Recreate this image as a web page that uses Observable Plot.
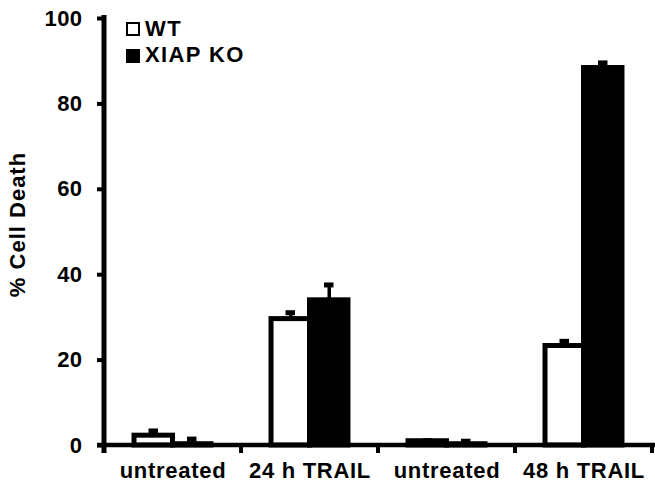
<!DOCTYPE html>
<html><head><meta charset="utf-8">
<script src="https://cdn.jsdelivr.net/npm/d3@7"></script>
<script src="https://cdn.jsdelivr.net/npm/@observablehq/plot@0.6"></script>
<style>
html,body{margin:0;padding:0;background:#fff;}
#wrap{position:relative;width:655px;height:483px;font-family:"Liberation Sans",Arial,Helvetica,sans-serif;}
.lg{position:absolute;font-weight:bold;font-size:22px;line-height:22px;letter-spacing:1.4px;color:#000;white-space:nowrap;}
.sw{position:absolute;box-sizing:border-box;width:14px;height:14px;border:2.5px solid #000;}
g[aria-label="fx-axis tick label"] text{letter-spacing:0.7px;}
g[aria-label="y-axis tick label"] text{letter-spacing:0.4px;}
</style></head><body><div id="wrap"></div>
<script>
const categoryIds = ["untreated-24", "trail-24", "untreated-48", "trail-48"];
const categoryLabels = ["untreated", "24 h TRAIL", "untreated", "48 h TRAIL"];
const seriesNames = ["WT", "XIAP KO"];
const seriesFills = ["white", "black"];
const wtValues = [2.3, 29.6, 1.0, 23.3];
const wtErrors = [1.1, 1.5, 0.1, 1.1];
const koValues = [0.3, 34.0, 0.3, 88.4];
const koErrors = [1.2, 3.6, 0.7, 1.2];
const yTicks = [0, 20, 40, 60, 80, 100];
const yTitle = "% Cell Death";

const rows = categoryIds.flatMap((c, i) => [
  {category: c, series: seriesNames[0], value: wtValues[i], error: wtErrors[i]},
  {category: c, series: seriesNames[1], value: koValues[i], error: koErrors[i]}
]);
const labelOf = new Map(categoryIds.map((c, i) => [c, categoryLabels[i]]));

let drawn = false;
function axisLines(index, scales) {
  if (drawn) return null;
  drawn = true;
  const fx = scales.fx, y = scales.y;
  const bw = typeof fx.bandwidth === "function" ? fx.bandwidth() : fx.bandwidth;
  const x0 = fx(categoryIds[0]);
  const xEnd = fx(categoryIds[categoryIds.length - 1]) + bw;
  const y0 = y(0), yTop = y(100);
  const g = d3.create("svg:g");
  const lines = g.append("g").attr("stroke", "black").attr("fill", "none");
  lines.append("line").attr("x1", x0).attr("x2", x0).attr("y1", yTop - 3).attr("y2", y0 + 8).attr("stroke-width", 5);
  lines.append("line").attr("x1", x0 - 7).attr("x2", xEnd + 3).attr("y1", y0).attr("y2", y0).attr("stroke-width", 4.7);
  const bounds = categoryIds.map(c => fx(c)).concat([xEnd]);
  for (const bx of bounds) {
    lines.append("line").attr("x1", bx).attr("x2", bx).attr("y1", y0).attr("y2", y0 + 8).attr("stroke-width", 4);
  }
  g.append("text")
    .attr("transform", `translate(${x0 - 79},${(y0 + yTop) / 2 - 7}) rotate(-90)`)
    .attr("text-anchor", "middle")
    .attr("font-size", 22)
    .attr("font-weight", "bold")
    .attr("letter-spacing", "1px")
    .attr("fill", "black")
    .text(yTitle);
  return g.node();
}

const chart = Plot.plot({
  width: 655,
  height: 483,
  marginLeft: 104,
  marginRight: 3,
  marginTop: 18,
  marginBottom: 38,
  style: {fontFamily: "'Liberation Sans', Arial, sans-serif", fontSize: "22px", fontWeight: "bold", overflow: "visible"},
  fx: {domain: categoryIds, padding: 0, round: false},
  x: {domain: seriesNames, paddingInner: 0, paddingOuter: 0.78, round: false, axis: null},
  y: {domain: [0, 100]},
  color: {domain: seriesNames, range: seriesFills},
  marks: [
    Plot.barY(rows, {fx: "category", x: "series", y: "value", fill: "series", stroke: "black", strokeWidth: 5}),
    Plot.ruleX(rows, {fx: "category", x: "series", y1: "value", y2: d => d.value + d.error, stroke: "black", strokeWidth: 3.5}),
    Plot.tickY(rows, {fx: "category", x: "series", y: d => d.value + d.error, stroke: "black", strokeWidth: 5, insetLeft: 14.5, insetRight: 14.5}),
    Plot.axisY({ticks: yTicks, tickSize: 7, tickPadding: 15, strokeWidth: 4, fontSize: 22, fontWeight: "bold", label: null}),
    Plot.axisFx({anchor: "bottom", tickSize: 0, tickPadding: 17, fontSize: 22, fontWeight: "bold",
      tickFormat: c => labelOf.get(c), label: null}),
    axisLines
  ]
});
const wrap = document.getElementById("wrap");
wrap.appendChild(chart);

const legendTops = [17.5, 44];
const swatchTops = [22, 49];
seriesNames.forEach((name, i) => {
  const sw = document.createElement("div");
  sw.className = "sw";
  sw.style.left = "126px";
  sw.style.top = swatchTops[i] + "px";
  sw.style.background = seriesFills[i];
  wrap.appendChild(sw);
  const t = document.createElement("div");
  t.className = "lg";
  t.style.left = "145px";
  t.style.top = legendTops[i] + "px";
  t.textContent = name;
  wrap.appendChild(t);
});
</script></body></html>
